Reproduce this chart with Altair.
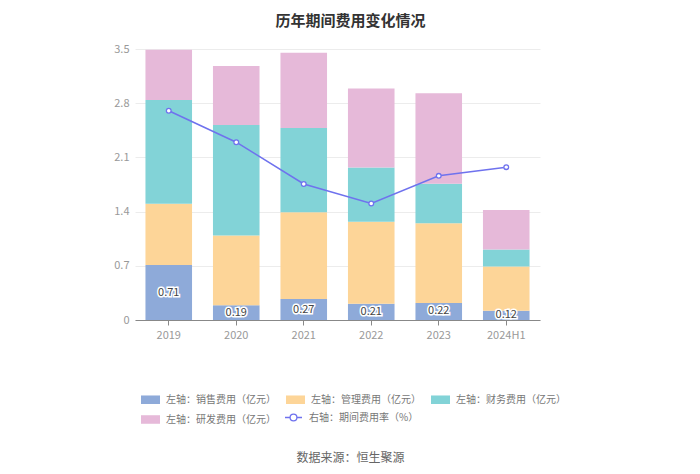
import altair as alt
import pandas as pd

years = ["2019", "2020", "2021", "2022", "2023", "2024H1"]
sales = [0.71, 0.19, 0.27, 0.21, 0.22, 0.12]
mgmt = [0.79, 0.90, 1.12, 1.06, 1.03, 0.57]
finance = [1.34, 1.43, 1.09, 0.70, 0.51, 0.22]
rnd = [0.65, 0.76, 0.97, 1.02, 1.17, 0.51]
rate = [19.3, 16.4, 12.55, 10.75, 13.3, 14.1]

series = ["左轴：销售费用（亿元）", "左轴：管理费用（亿元）", "左轴：财务费用（亿元）", "左轴：研发费用（亿元）"]
line_name = "右轴：期间费用率（%）"
colors = ["#8eaad9", "#fdd598", "#82d3d7", "#e6b9d9"]
line_color = "#6f72ee"

rows = []
for i, y in enumerate(years):
    for k, (name, vals) in enumerate(zip(series, [sales, mgmt, finance, rnd])):
        rows.append({"year": y, "series": name, "value": vals[i], "ord": k})
bars_df = pd.DataFrame(rows)
line_df = pd.DataFrame({"year": years, "rate": rate, "name": [line_name] * len(years)})
label_df = pd.DataFrame({"year": years, "sales": sales})

font = "Noto Sans CJK SC"
W, H = 405, 271

x_enc = alt.X(
    "year:N", sort=years,
    scale=alt.Scale(paddingInner=0.31, paddingOuter=0.155),
    axis=alt.Axis(
        title="数据来源：恒生聚源", titleX=215, titleY=137, titleBaseline="middle",
        titleFontSize=12, titleFontWeight="normal", titleColor="#666", titleFont=font,
        labelAngle=0, labelColor="#999", labelFontSize=11, labelFont=font, labelPadding=4,
        domainColor="#888", tickColor="#888", tickSize=5, grid=False,
    ),
)

left_axis = alt.Axis(
    values=[0, 0.7, 1.4, 2.1, 2.8, 3.5], title=None,
    labelExpr="datum.value == 0 ? '0' : format(datum.value, '.1f')",
    labelColor="#999", labelFontSize=11, labelFont=font, labelPadding=6,
    domain=False, ticks=False, gridColor="#ececec",
)

bars = alt.Chart(bars_df).mark_bar().encode(
    x=x_enc,
    y=alt.Y("value:Q", stack="zero", scale=alt.Scale(domain=[0, 3.5], nice=False), axis=left_axis),
    color=alt.Color(
        "series:N", sort=series,
        scale=alt.Scale(domain=series, range=colors),
        legend=alt.Legend(
            title=None, orient="none", legendX=6, legendY=341, columns=3, direction="horizontal",
            symbolType="M-1,-0.45H1V0.45H-1Z", symbolSize=361, symbolStrokeWidth=0,
            labelFont=font, labelFontSize=10, labelColor="#777", labelOffset=6,
            columnPadding=10, rowPadding=5, symbolOpacity=1,
        ),
    ),
    order=alt.Order("ord:Q"),
)

label_base = alt.Chart(label_df).transform_calculate(mid="datum.sales / 2").encode(
    x=alt.X("year:N", sort=years),
    y=alt.Y("mid:Q"),
    text=alt.Text("sales:Q", format=".2f"),
)
label_halo = label_base.mark_text(fontSize=11, font=font, stroke="white", strokeWidth=3, color="white", baseline="middle")
label_text = label_base.mark_text(fontSize=11, font=font, color="#444", baseline="middle")

right_axis = alt.Axis(
    values=[0, 5, 10, 15, 20, 25], title=None, orient="right",
    labelColor="#999", labelFontSize=11, labelFont=font, labelPadding=6,
    domain=False, ticks=False, grid=False,
)

line = alt.Chart(line_df).mark_line(strokeWidth=1.5).encode(
    x=alt.X("year:N", sort=years),
    y=alt.Y("rate:Q", scale=alt.Scale(domain=[0, 25], nice=False), axis=right_axis),
    stroke=alt.Stroke(
        "name:N",
        scale=alt.Scale(domain=[line_name], range=[line_color]),
        legend=alt.Legend(
            title=None, orient="none", legendX=149, legendY=359,
            symbolType="M-1,0H-0.4M0.4,0H1M0.4,0A0.4,0.4,0,1,1,-0.4,0A0.4,0.4,0,1,1,0.4,0",
            symbolSize=289, symbolFillColor="white", symbolStrokeColor=line_color, symbolStrokeWidth=1.3,
            labelFont=font, labelFontSize=10, labelColor="#777", labelOffset=6,
        ),
    ),
)
points = alt.Chart(line_df).mark_point(filled=True, fill="white", stroke=line_color, strokeWidth=1.3, size=22, opacity=1).encode(
    x=alt.X("year:N", sort=years),
    y=alt.Y("rate:Q", scale=alt.Scale(domain=[0, 25], nice=False), axis=None),
)

left = alt.layer(bars, label_halo, label_text)
right = alt.layer(line, points)

chart = alt.layer(left, right).resolve_scale(y="independent").properties(
    width=W, height=H,
    title=alt.TitleParams(
        "历年期间费用变化情况", fontSize=15, fontWeight="bold", color="#333", font=font,
        anchor="middle", dx=13, offset=14,
    ),
    autosize=alt.AutoSizeParams(type="none"),
    padding={"left": 127, "top": 41, "right": 150, "bottom": 150},
).configure_view(stroke=None)

chart.save("out.html", embed_options={"renderer": "svg", "actions": False})
